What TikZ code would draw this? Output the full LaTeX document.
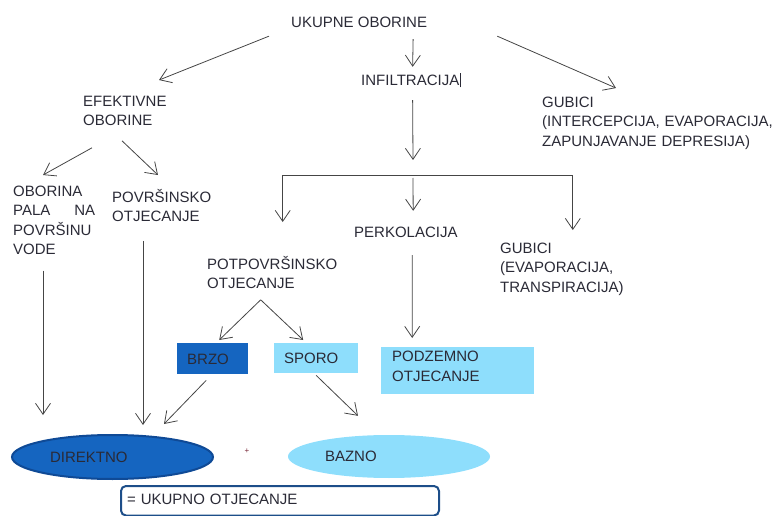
\documentclass[tikz,border=0pt]{standalone}
\usepackage{fontspec}
\setmainfont{Liberation Sans}
\usetikzlibrary{shapes.geometric}
\usetikzlibrary{arrows.meta}

\definecolor{txtcol}{HTML}{2A2A36}
\definecolor{arrcol}{HTML}{454545}
\definecolor{darkblue}{HTML}{1565C0}
\definecolor{darkrim}{HTML}{0F4A96}
\definecolor{lightblue}{HTML}{8EDEFC}
\definecolor{boxrim}{HTML}{1D4E89}
\definecolor{pluscol}{HTML}{7A2A3A}

\begin{document}
\begin{tikzpicture}[x=1pt, y=-1pt,
  every node/.style={font=\fontsize{15}{19.3}\selectfont, text=txtcol},
  lbl/.style={inner sep=0pt, align=left, text height=10.74pt, anchor=north west},
  lbl1/.style={lbl, text depth=0pt, anchor=west},
  arr/.style={draw=arrcol, line width=0.8pt, -{Straight Barb[length=11pt,width=15pt]}},
  box/.style={rectangle, anchor=north west, inner ysep=0pt, align=left, text height=10.74pt, text depth=0pt}]
\useasboundingbox (0,0) rectangle (780,516);

% text
\node[lbl1] (tot) at (291,22.5) {UKUPNE OBORINE};
\node[lbl1] (inf) at (361,80) {INFILTRACIJA\kern1pt\rule[-2pt]{0.7pt}{14pt}};
\node[lbl, text width=84pt] (efe) at (83,95.13) {EFEKTIVNE\\OBORINE};
\node[lbl, text width=232pt] (gub1) at (542,96.63) {GUBICI\\(INTERCEPCIJA, EVAPORACIJA,\\ZAPUNJAVANJE DEPRESIJA)};
\node[lbl, text width=82pt] (obo) at (13,185.63) {OBORINA\\PALA\hfill NA\\POVRŠINU\\VODE};
\node[lbl, text width=100pt] (pov) at (112,191.63) {POVRŠINSKO\\OTJECANJE};
\node[lbl1] (perk) at (354,232.5) {PERKOLACIJA};
\node[lbl, text width=125pt] (gub2) at (500,242.63) {GUBICI\\(EVAPORACIJA,\\TRANSPIRACIJA)};
\node[lbl, text width=131pt] (potp) at (207,258.63) {POTPOVRŠINSKO\\OTJECANJE};

% boxes
\node[box, fill=darkblue, minimum width=71pt, minimum height=31pt, inner xsep=10pt, text width=51pt] (brzo) at (177,343) {BRZO};
\node[box, fill=lightblue, minimum width=84pt, minimum height=30pt, inner xsep=10pt, text width=64pt] (sporo) at (274,343) {SPORO};
\node[box, fill=lightblue, minimum width=153pt, minimum height=47pt, inner xsep=11pt, text width=131pt, text depth=28.3pt] (podz) at (381,347) {PODZEMNO\\OTJECANJE};

% ellipses
\node[ellipse, draw=darkrim, line width=2pt, fill=darkblue, minimum width=201pt, minimum height=44pt,
  inner sep=0pt, text width=125pt, align=left, text height=10.74pt, text depth=0pt] (dir) at (112.5,457) {DIREKTNO};
\node[ellipse, fill=lightblue, minimum width=202pt, minimum height=43pt,
  inner sep=0pt, text width=128pt, align=left, text height=10.74pt, text depth=0pt] (baz) at (389,456.5) {BAZNO};
\node[font=\fontsize{8}{8}\selectfont, text=pluscol, inner sep=0pt] (plus) at (247,451) {+};

\node[box, draw=boxrim, line width=2pt, rounded corners=5pt, minimum width=318pt, minimum height=29.5pt,
  inner xsep=6pt, text width=306pt, text depth=3.5pt] (uku) at (120,485) {= UKUPNO OTJECANJE};

% arrows
\draw[arr] ([shift={(-22,8.1)}]tot.south west) -- ([shift={(-8.4,-15.1)}]efe.north east);
\draw[arr] ([shift={(54,11.1)}]tot.south) -- ([shift={(1.55,-7.6)}]inf.north);
\draw[arr] ([shift={(70,8.1)}]tot.south east) -- ([shift={(74,-8.6)}]gub1.north west);
\coordinate (split) at (413,175);
\draw[arr] ([shift={(1.55,14.6)}]inf.south) -- ([shift={(0,-15)}]split);
\draw[arr] (split) -| ([shift={(10,-36.6)}]potp.north);
\draw[arr] (split) -| ([shift={(10.1,-12.6)}]gub2.north);
\draw[arr] ([shift={(0,3)}]split) -- ([shift={(7.3,-16.1)}]perk.north);
\draw[arr] ([shift={(9,22.1)}]efe.south west) -- ([shift={(30,-10.6)}]obo.north west);
\draw[arr] ([shift={(39,15.1)}]efe.south west) -- ([shift={(46,-16.6)}]pov.north west);
\draw[arr] ([shift={(30,15.7)}]obo.south west) -- ([shift={(-69.5,-19)}]dir.north);
\draw[arr] ([shift={(31,18.6)}]pov.south west) -- ([shift={(30.5,-9)}]dir.north);
\draw[arr] ([shift={(-12,10.6)}]potp.south) -- ([shift={(6.5,-3)}]brzo.north);
\draw[arr] ([shift={(-12,10.6)}]potp.south) -- ([shift={(-13,-3)}]sporo.north);
\draw[arr] ([shift={(-6.5,6)}]brzo.south) -- ([shift={(51.5,-10)}]dir.north);
\draw[arr] ([shift={(0,2)}]sporo.south) -- ([shift={(-31,-19)}]baz.north);
\draw[arr] ([shift={(6.3,17.1)}]perk.south) -- ([shift={(-45.5,-9)}]podz.north);
\end{tikzpicture}
\end{document}
